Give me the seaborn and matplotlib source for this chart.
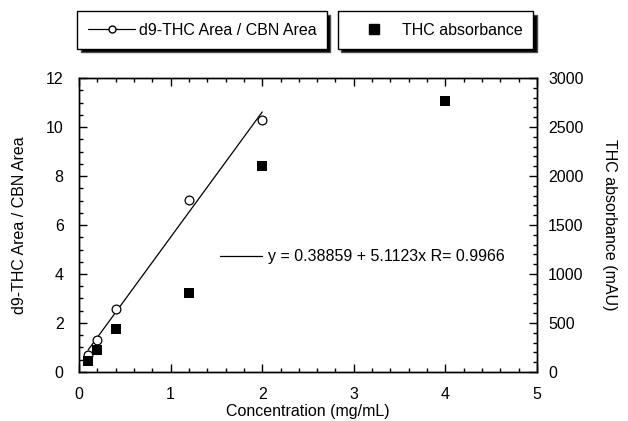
import numpy as np
import pandas as pd
import matplotlib
matplotlib.use("Agg")
import matplotlib.pyplot as plt
from matplotlib.lines import Line2D
from matplotlib.ticker import MultipleLocator
import seaborn as sns

# Calibration data
conc_ratio = [0.1, 0.2, 0.4, 1.2, 2.0]
area_ratio = [0.69, 1.30, 2.56, 7.02, 10.30]

conc_abs = [0.1, 0.2, 0.4, 1.2, 2.0, 4.0]
absorbance = [112, 224, 440, 806, 2102, 2770]

# Linear fit reported for the area ratio
fit_intercept = 0.38859
fit_slope = 5.1123
fit_r = 0.9966
fit_range = [0.1, 2.0]

FS = 11.5

sns.set_theme(style="white")
plt.rcParams["font.family"] = ["Liberation Sans", "DejaVu Sans"]
plt.rcParams["font.size"] = FS
plt.rcParams["text.color"] = "black"
plt.rcParams["axes.labelcolor"] = "black"
plt.rcParams["xtick.color"] = "black"
plt.rcParams["ytick.color"] = "black"

fig = plt.figure(figsize=(6.28, 4.21), dpi=100)
ax = fig.add_axes([0.1258, 0.1164, 0.7293, 0.6983])
ax2 = ax.twinx()

df_ratio = pd.DataFrame({"conc": conc_ratio, "ratio": area_ratio})
df_abs = pd.DataFrame({"conc": conc_abs, "abs": absorbance})
fit_x = np.array(fit_range)
df_fit = pd.DataFrame({"conc": fit_x, "ratio": fit_intercept + fit_slope * fit_x})

sns.lineplot(data=df_fit, x="conc", y="ratio", ax=ax, color="black", lw=0.9)
sns.scatterplot(data=df_ratio, x="conc", y="ratio", ax=ax, marker="o", s=40,
                facecolor="white", edgecolor="black", linewidth=0.9, zorder=3)
sns.scatterplot(data=df_abs, x="conc", y="abs", ax=ax2, marker="s", s=55,
                color="black", edgecolor="black", linewidth=0, zorder=3)

ax.set_xlim(0, 5)
ax.set_ylim(0, 12)
ax2.set_ylim(0, 3000)

ax.xaxis.set_major_locator(MultipleLocator(1))
ax.xaxis.set_minor_locator(MultipleLocator(0.2))
ax.yaxis.set_major_locator(MultipleLocator(2))
ax.yaxis.set_minor_locator(MultipleLocator(0.5))
ax2.yaxis.set_major_locator(MultipleLocator(500))
ax2.yaxis.set_minor_locator(MultipleLocator(100))

ax.tick_params(axis="x", which="both", direction="in", top=True, bottom=True,
               labelsize=FS, pad=11, labelcolor="black")
ax.tick_params(axis="y", which="both", direction="in", left=True, right=False,
               labelsize=FS, pad=11, labelcolor="black")
ax2.tick_params(axis="y", which="both", direction="in", right=True, left=False,
                labelsize=FS, pad=8, labelcolor="black")
for a in (ax, ax2):
    a.tick_params(which="major", length=6, width=1, color="black")
    a.tick_params(which="minor", length=3, width=1, color="black")
    for sp in a.spines.values():
        sp.set_color("black")
        sp.set_linewidth(1.0)

ax.set_xlabel("Concentration (mg/mL)", fontsize=FS, labelpad=1, color="black")
ax.set_ylabel("d9-THC Area / CBN Area", fontsize=FS, labelpad=14, color="black")
ax2.set_ylabel("THC absorbance (mAU)", fontsize=FS, rotation=270, labelpad=24,
               color="black")

# Fit equation with its line sample
ax.plot([1.54, 2.0], [4.73, 4.73], color="black", lw=0.9)
ax.text(2.06, 4.73, f"y = {fit_intercept} + {fit_slope}x R= {fit_r}",
        fontsize=FS, va="center", ha="left", color="black")

# Two separate legend boxes above the plot
h1 = Line2D([], [], color="black", lw=0.9, marker="o", markersize=5,
            markerfacecolor="white", markeredgecolor="black")
h2 = Line2D([], [], color="none", marker="s", markersize=6.5,
            markerfacecolor="black", markeredgecolor="black")
leg_kw = dict(frameon=True, fancybox=False, framealpha=1,
              shadow={"facecolor": "black", "alpha": 1, "ox": 2.5, "oy": -2.5},
              edgecolor="black", fontsize=FS, borderpad=0.7, borderaxespad=0,
              loc="center", mode="expand", labelcolor="black")
leg1 = fig.legend([h1], ["d9-THC Area / CBN Area"], handlelength=2.9,
                  handletextpad=0.25,
                  bbox_to_anchor=(0.123, 0.888, 0.397, 0.081), **leg_kw)
leg1.get_frame().set_linewidth(1.0)
leg2 = fig.legend([h2], ["THC absorbance"], handlelength=3.1,
                  handletextpad=0.2,
                  bbox_to_anchor=(0.538, 0.888, 0.311, 0.081), **leg_kw)
leg2.get_frame().set_linewidth(1.0)

fig.savefig("out.png", dpi=100)
